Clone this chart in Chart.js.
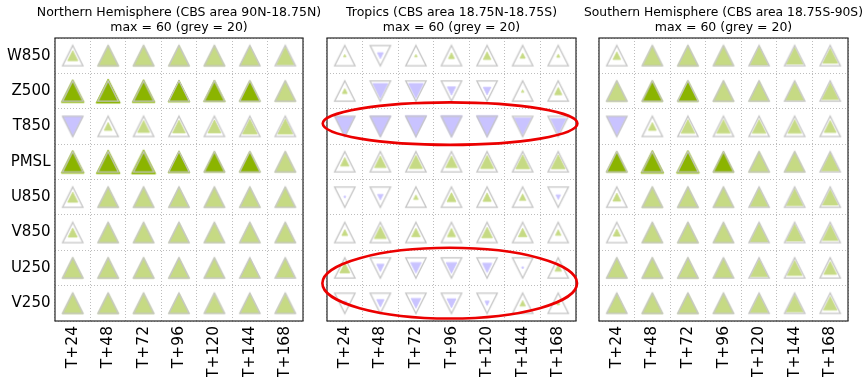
<!DOCTYPE html>
<html>
<head>
<meta charset="utf-8">
<script src="https://cdn.jsdelivr.net/npm/chart.js@4/dist/chart.umd.min.js"></script>
<style>
  html, body { margin: 0; padding: 0; background: #fff; }
  #wrap { position: relative; width: 863px; height: 377px; overflow: hidden; }
  #wrap canvas { position: absolute; top: 0; }
</style>
</head>
<body>
<div id="wrap">
  <canvas id="nh" width="358" height="377" style="left:0px"></canvas>
  <canvas id="tr" width="275" height="377" style="left:314px"></canvas>
  <canvas id="sh" width="279" height="377" style="left:584px"></canvas>
</div>
<script>
// Forecast lead times (columns) and verified parameters (rows)
const leadTimes = ['T+24', 'T+48', 'T+72', 'T+96', 'T+120', 'T+144', 'T+168'];
const parameters = ['W850', 'Z500', 'T850', 'PMSL', 'U850', 'V850', 'U250', 'V250'];

// Triangle area is proportional to the score change; 60 fills a cell, grey outline marks 20
const maxValue = 60;
const greyValue = 20;

// Signed score changes (positive = improvement, triangle up; negative = degradation, triangle down)
const nhChange = [
  [5, 21, 21, 21, 21, 19, 16],
  [25, 28, 25, 23, 22, 21, 21],
  [-19, 3, 7, 8, 8, 11, 11],
  [25, 27, 28, 23, 21, 21, 21],
  [5, 20, 20, 20, 20, 20, 19],
  [4, 20, 20, 20, 20, 20, 20],
  [21, 21, 21, 21, 20, 19, 18],
  [21, 21, 21, 20, 19, 19, 19]
];
const nhStrong = [
  [0, 0, 0, 0, 0, 0, 0],
  [1, 1, 1, 1, 1, 1, 0],
  [0, 0, 0, 0, 0, 0, 0],
  [1, 1, 1, 1, 1, 1, 0],
  [0, 0, 0, 0, 0, 0, 0],
  [0, 0, 0, 0, 0, 0, 0],
  [0, 0, 0, 0, 0, 0, 0],
  [0, 0, 0, 0, 0, 0, 0]
];

const trChange = [
  [0.3, -1.7, 0.3, 1.7, 2.8, 1.3, 0.5],
  [1.2, -10.8, -11, -3.3, -2.8, 0.3, 2.6],
  [-19, -21, -22, -22, -22, -15, -12],
  [3.5, 6.5, 8.5, 6.5, 8.5, 9.4, 9.4],
  [-0.2, -1.5, 1, 3.9, 3.3, 2, -1],
  [1.7, 7, 3.5, 3.3, 5.5, 3.5, 1.5],
  [4.8, -2.6, -5.5, -5.5, -4.2, -0.2, 2.1],
  [-0.8, -2.6, -4.5, -3.9, -0.9, 1.5, 0.4]
];
const trStrong = [
  [0, 0, 0, 0, 0, 0, 0],
  [0, 0, 0, 0, 0, 0, 0],
  [0, 0, 0, 0, 0, 0, 0],
  [0, 0, 0, 0, 0, 0, 0],
  [0, 0, 0, 0, 0, 0, 0],
  [0, 0, 0, 0, 0, 0, 0],
  [0, 0, 0, 0, 0, 0, 0],
  [0, 0, 0, 0, 0, 0, 0]
];

const shChange = [
  [2.8, 19, 21, 19, 17, 14, 11],
  [21, 21, 21, 21, 20, 17, 14],
  [-18, 3, 9, 9, 9, 9, 7],
  [21, 25, 25, 21, 21, 20, 16],
  [3, 21, 21, 20, 17, 14, 12],
  [2.5, 20, 21, 20, 17, 14, 12],
  [20, 21, 21, 19, 15, 11, 8],
  [19, 21, 21, 20, 17, 15, 9]
];
const shStrong = [
  [0, 0, 0, 0, 0, 0, 0],
  [0, 1, 1, 0, 0, 0, 0],
  [0, 0, 0, 0, 0, 0, 0],
  [1, 1, 1, 1, 0, 0, 0],
  [0, 0, 0, 0, 0, 0, 0],
  [0, 0, 0, 0, 0, 0, 0],
  [0, 0, 0, 0, 0, 0, 0],
  [0, 0, 0, 0, 0, 0, 0]
];

// Highlight rings on the tropics panel, in column/row index units
const tropicsHighlights = [
  { x: 2.96, y: 1.92, rx: 3.58, ry: 0.6 },
  { x: 2.95, y: 6.43, rx: 3.58, ry: 1.0 }
];

const COLORS = {
  upLight: 'rgb(198,218,132)',
  upDark: 'rgb(139,180,0)',
  downLight: 'rgb(201,195,255)',
  downDark: 'rgb(150,135,255)',
  grey: 'rgb(198,198,198)',
  frame: '#262626'
};

Chart.defaults.font.family = "'DejaVu Sans', sans-serif";
Chart.defaults.color = '#000';

// Triangle markers as small canvases (width equals height), cached by size and style
const markerCache = new Map();
function triangleMarker(w, up, fill, stroke, lw) {
  const key = [w.toFixed(2), up, fill, stroke, lw].join('|');
  if (markerCache.has(key)) return markerCache.get(key);
  const size = Math.ceil(w + 2 * lw + 4);
  const cv = document.createElement('canvas');
  cv.width = size; cv.height = size;
  const g = cv.getContext('2d');
  const c = size / 2, h = w / 2;
  g.beginPath();
  if (up) {
    g.moveTo(c, c - h); g.lineTo(c + h, c + h); g.lineTo(c - h, c + h);
  } else {
    g.moveTo(c, c + h); g.lineTo(c + h, c - h); g.lineTo(c - h, c - h);
  }
  g.closePath();
  if (fill) { g.fillStyle = fill; g.fill(); }
  if (stroke && lw > 0) { g.lineJoin = 'miter'; g.strokeStyle = stroke; g.lineWidth = lw; g.stroke(); }
  markerCache.set(key, cv);
  return cv;
}

function markerWidth(chart, v) {
  const cw = chart.scales.x.width / leadTimes.length;
  const ch = chart.scales.y.height / parameters.length;
  const cell = Math.min(cw, ch);
  return cell * Math.sqrt(Math.min(Math.abs(v), maxValue) / maxValue);
}

function cells(values, strong) {
  const pts = [];
  parameters.forEach((p, r) => {
    leadTimes.forEach((t, c) => {
      pts.push({ x: t, y: p, v: values[r][c], strong: strong[r][c] });
    });
  });
  return pts;
}

// Plot frame and highlight ellipses
const scoreFrame = {
  id: 'scoreFrame',
  afterDraw(chart, args, opts) {
    const { ctx, chartArea: a, scales: { x, y } } = chart;
    ctx.save();
    ctx.strokeStyle = COLORS.frame;
    ctx.lineWidth = 1.2;
    ctx.strokeRect(a.left, a.top, a.width, a.height);
    (opts.ellipses || []).forEach(e => {
      const cx = x.getPixelForValue(e.x);
      const cy = y.getPixelForValue(e.y);
      const rx = Math.abs(x.getPixelForValue(e.x + e.rx) - cx);
      const ry = Math.abs(y.getPixelForValue(e.y + e.ry) - cy);
      ctx.beginPath();
      ctx.ellipse(cx, cy, rx, ry, 0, 0, Math.PI * 2);
      ctx.strokeStyle = 'rgb(235,0,0)';
      ctx.lineWidth = 2.6;
      ctx.stroke();
    });
    ctx.restore();
  }
};

function makePanel(id, titleLines, values, strong, cfg) {
  const data = cells(values, strong);
  return new Chart(document.getElementById(id), {
    type: 'scatter',
    data: {
      datasets: [
        {
          // grey reference outline (value 20), drawn on top
          data: data,
          pointStyle: (ctx) => {
            const d = ctx.raw;
            const w = markerWidth(ctx.chart, greyValue);
            return triangleMarker(w, d.v >= 0, null, COLORS.grey, 1.3);
          },
          pointRadius: (ctx) => markerWidth(ctx.chart, greyValue) / 2,
          order: 0
        },
        {
          // score change markers
          data: data,
          pointStyle: (ctx) => {
            const d = ctx.raw;
            const up = d.v >= 0;
            const w = markerWidth(ctx.chart, d.v);
            const fill = up ? (d.strong ? COLORS.upDark : COLORS.upLight)
                            : (d.strong ? COLORS.downDark : COLORS.downLight);
            return triangleMarker(w, up, fill, fill, 0.8);
          },
          pointRadius: (ctx) => Math.max(markerWidth(ctx.chart, ctx.raw.v) / 2, 0.2),
          order: 1
        }
      ]
    },
    options: {
      responsive: false,
      animation: false,
      events: [],
      layout: { padding: 0 },
      plugins: {
        legend: { display: false },
        tooltip: { enabled: false },
        title: {
          display: true,
          text: titleLines,
          color: '#000',
          font: { size: 12.5, weight: 'normal', lineHeight: 1.152 },
          padding: { top: 6, bottom: 3.2 }
        },
        scoreFrame: { ellipses: cfg.ellipses || [] }
      },
      scales: {
        x: {
          type: 'category',
          labels: leadTimes,
          offset: true,
          grid: { offset: true, color: '#bdbdbd', lineWidth: 1, drawTicks: false },
          border: { display: false, dash: [1, 2] },
          ticks: {
            minRotation: 90, maxRotation: 90, autoSkip: false,
            padding: 5, color: '#000',
            font: { size: 15.5 }
          },
          afterFit: (s) => { s.height = 56; }
        },
        y: {
          type: 'category',
          labels: parameters,
          offset: true,
          grid: { offset: true, color: '#bdbdbd', lineWidth: 1, drawTicks: false },
          border: { display: false, dash: [1, 2] },
          ticks: {
            display: cfg.showY, autoSkip: false,
            padding: 4.5, color: '#000',
            font: { size: 15 }
          },
          afterFit: (s) => { s.width = cfg.side; }
        },
        // empty right-hand margin so the title centres over the plot
        yRight: {
          type: 'category',
          position: 'right',
          labels: parameters,
          grid: { display: false },
          border: { display: false },
          ticks: { display: false },
          afterFit: (s) => { s.width = cfg.side; }
        }
      }
    },
    plugins: [scoreFrame]
  });
}

makePanel('nh', ['Northern Hemisphere (CBS area 90N-18.75N)', 'max = 60 (grey = 20)'],
  nhChange, nhStrong, { side: 55, showY: true });
makePanel('tr', ['Tropics (CBS area 18.75N-18.75S)', 'max = 60 (grey = 20)'],
  trChange, trStrong, { side: 13, showY: false, ellipses: tropicsHighlights });
makePanel('sh', ['Southern Hemisphere (CBS area 18.75S-90S)', 'max = 60 (grey = 20)'],
  shChange, shStrong, { side: 15, showY: false });
</script>
</body>
</html>
